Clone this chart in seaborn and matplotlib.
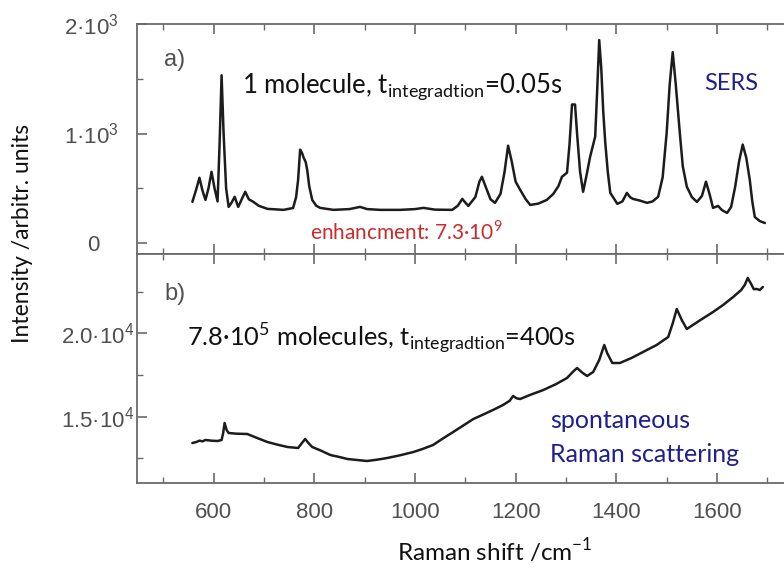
import matplotlib
matplotlib.use("Agg")
import matplotlib.pyplot as plt
import pandas as pd
import seaborn as sns
from matplotlib.ticker import FixedLocator, MultipleLocator

# SERS spectrum of a single molecule (panel a)
shift_sers = [558, 565, 572, 578, 584, 590, 596, 602, 608, 612, 616, 620, 625, 630,
              636, 642, 649, 656, 663, 670, 679, 690, 707, 739, 758, 764, 768, 772,
              776, 779, 783, 786, 790, 796, 804, 812, 838, 870, 891, 905, 931, 971,
              1000, 1017, 1040, 1074, 1085, 1094, 1100, 1106, 1120, 1128, 1133, 1140,
              1150, 1159, 1170, 1178, 1185, 1192, 1200, 1209, 1220, 1229, 1245, 1262,
              1275, 1285, 1292, 1302, 1307, 1312, 1318, 1322, 1328, 1334, 1340, 1348,
              1358, 1362, 1366, 1370, 1374, 1378, 1383, 1388, 1402, 1412, 1421, 1427,
              1433, 1445, 1461, 1472, 1483, 1492, 1500, 1506, 1512, 1518, 1526, 1532,
              1540, 1550, 1560, 1570, 1578, 1585, 1592, 1597, 1602, 1610, 1620, 1628,
              1636, 1644, 1651, 1658, 1665, 1670, 1675, 1685, 1695]
intensity_sers = [376, 480, 596, 480, 394, 500, 651, 500, 380, 900, 1532, 1000, 500, 330,
                  370, 422, 330, 400, 468, 400, 376, 340, 312, 303, 320, 420, 578, 853,
                  820, 779, 740, 669, 520, 394, 340, 321, 303, 310, 330, 310, 303, 303,
                  310, 321, 305, 303, 340, 403, 370, 339, 420, 560, 605, 520,
                  400, 367, 450, 650, 889, 750, 560, 486, 400, 348, 360, 394,
                  450, 520, 605, 642, 900, 1265, 1265, 1000, 650, 468, 600, 789,
                  972, 1400, 1853, 1600, 1200, 917, 650, 458, 358, 380, 458, 420,
                  403, 390, 367, 380, 422, 600, 1009, 1450, 1743, 1450, 1009, 700,
                  514, 420, 376, 430, 560, 450, 321, 330, 339, 300, 275, 330,
                  514, 750, 899, 780, 578, 380, 238, 200, 183]

# spontaneous Raman spectrum of the ensemble (panel b)
shift_raman = [558, 566, 572, 578, 584, 596, 608, 616, 619, 622, 626, 630, 645, 667,
               685, 707, 727, 747, 768, 775, 782, 789, 796, 812, 832, 850, 866, 885,
               905, 925, 945, 970, 997, 1015, 1036, 1056, 1076, 1096, 1116, 1135, 1155,
               1175, 1188, 1195, 1202, 1209, 1230, 1255, 1280, 1302, 1314, 1322, 1332,
               1342, 1354, 1366, 1376, 1382, 1392, 1407, 1430, 1453, 1480, 1503, 1512,
               1520, 1530, 1540, 1565, 1592, 1612, 1632, 1648, 1655, 1661, 1667, 1673,
               1679, 1685, 1691]
intensity_raman = [13420, 13480, 13560, 13520, 13600, 13560, 13540, 13600, 14000, 14620,
                   14200, 14020, 13980, 13960, 13740, 13480, 13320, 13180, 13120, 13400,
                   13660, 13400, 13180, 12980, 12700, 12580, 12460, 12400, 12340, 12420,
                   12520, 12680, 12880, 13060, 13300, 13700, 14080, 14470, 14860, 15120,
                   15400, 15700, 15950, 16240, 16100, 16060, 16320, 16600, 16950, 17320,
                   17700, 17920, 17650, 17440, 17680, 18400, 19300, 18800, 18220, 18220,
                   18520, 18880, 19300, 19780, 20600, 21460, 20800, 20260, 20760, 21280,
                   21700, 22180, 22600, 22900, 23320, 23000, 22650, 22660, 22600, 22780]

shift_ticks = [600, 800, 1000, 1200, 1400, 1600]
sers_ticks = [0, 1000, 2000]
sers_ticklabels = ["0   ", r"$\mathregular{1·10^{3}}$", r"$\mathregular{2·10^{3}}$"]
raman_ticks = [15000, 20000]
raman_ticklabels = [r"$\mathregular{1.5·10^{4}}$", r"$\mathregular{2.0·10^{4}}$"]

sers = pd.DataFrame({"shift": shift_sers, "intensity": intensity_sers})
raman = pd.DataFrame({"shift": shift_raman, "intensity": intensity_raman})

sns.set_theme(style="ticks")
plt.rcParams["font.family"] = ["Lato", "DejaVu Sans"]

W, H = 784, 574
fig = plt.figure(figsize=(W / 100, H / 100), dpi=100)


def fx(x):
    return x / W


def fy(y):
    return 1 - y / H


ax_a = fig.add_axes([fx(137), fy(254), fx(W - 137), (254 - 24) / H])
ax_b = fig.add_axes([fx(137), fy(483), fx(W - 137), (483 - 254) / H])

line_kw = dict(color="#1c1c1c", linewidth=1.8, estimator=None, sort=False, legend=False)
sns.lineplot(data=sers, x="shift", y="intensity", ax=ax_a, **line_kw)
sns.lineplot(data=raman, x="shift", y="intensity", ax=ax_b, **line_kw)

spine_col = "#6a6a6a"
label_col = "#505050"
for ax in (ax_a, ax_b):
    ax.set_xlim(448, 1733)
    ax.xaxis.set_major_locator(FixedLocator(shift_ticks))
    ax.xaxis.set_minor_locator(MultipleLocator(100))
    ax.set_xlabel("")
    ax.set_ylabel("")
    for side in ("top", "bottom", "left"):
        ax.spines[side].set_color(spine_col)
        ax.spines[side].set_linewidth(1.3)
        ax.spines[side].set_visible(True)
    ax.spines["right"].set_visible(False)
    ax.tick_params(axis="both", which="both", direction="in", color=spine_col,
                   labelcolor=label_col, top=True, bottom=True, right=False,
                   labelfontfamily="Liberation Sans", labelsize=16)
    ax.tick_params(which="major", length=7, width=1.2)
    ax.tick_params(which="minor", length=4, width=1.0)
    ax.set_facecolor("white")

ax_a.set_ylim(-100, 2000)
ax_a.yaxis.set_major_locator(FixedLocator(sers_ticks))
ax_a.yaxis.set_minor_locator(FixedLocator([500, 1500]))
ax_a.set_yticklabels(sers_ticklabels)
ax_a.tick_params(axis="x", labelbottom=False)
ax_a.tick_params(axis="y", pad=13)

ax_b.set_ylim(11020, 24760)
ax_b.yaxis.set_major_locator(FixedLocator(raman_ticks))
ax_b.yaxis.set_minor_locator(FixedLocator([12500, 17500, 22500]))
ax_b.set_yticklabels(raman_ticklabels)
ax_b.tick_params(axis="y", pad=2)
ax_b.tick_params(axis="x", pad=14)

# axis titles
fig.text(fx(23), fy(233), "Intensity /arbitr. units", rotation=90, ha="center",
         va="center", fontsize=16.5, color="#111111")
fig.text(fx(495), fy(551), r"Raman shift /cm$^{\mathregular{-1}}$", ha="center",
         va="center", fontsize=17.5, color="#111111")

# panel annotations
tick_font = dict(family="Liberation Sans", color=label_col, fontsize=17)
fig.text(fx(164), fy(66), "a)", **tick_font)
fig.text(fx(164), fy(300), "b)", **tick_font)

fig.text(fx(242), fy(92), r"1 molecule, t$_{\mathregular{integradtion}}$=0.05s",
         fontsize=18.5, color="#111111")
fig.text(fx(704), fy(90), "SERS", fontsize=17, color="#1f1f8f")
fig.text(fx(310), fy(240), r"enhancment: 7.3·10$^{\mathregular{9}}$",
         fontsize=15, color="#cc2b2b")
fig.text(fx(187), fy(346), r"7.8·10$^{\mathregular{5}}$ molecules, t$_{\mathregular{integradtion}}$=400s",
         fontsize=18.3, color="#111111")
fig.text(fx(550), fy(428), "spontaneous", fontsize=18, color="#1f1f8f")
fig.text(fx(550), fy(462), "Raman scattering", fontsize=18, color="#1f1f8f")

fig.savefig("out.png", dpi=100, facecolor="white")
